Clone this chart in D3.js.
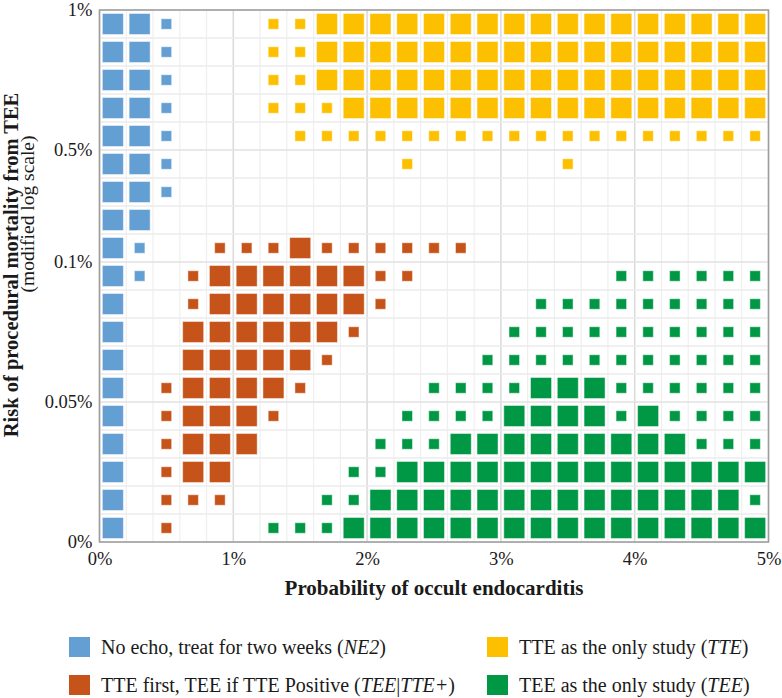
<!DOCTYPE html>
<html><head><meta charset="utf-8">
<script src="https://cdn.jsdelivr.net/npm/d3@7"></script>
</head><body style="margin:0">
<svg id="chart" width="782" height="698"></svg>
<script>
// Column categories: probability of occult endocarditis (%), cell centres
const colProb = [0.1,0.3,0.5,0.7,0.9,1.1,1.3,1.5,1.7,1.9,2.1,2.3,2.5,2.7,2.9,3.1,3.3,3.5,3.7,3.9,4.1,4.3,4.5,4.7,4.9];
// Rows from top (1%) to bottom (0%) ; B/O/Y/G = preferred strategy (large), lowercase = marginal (small), . = none
const gridRows = [
  "BBb...yyYYYYYYYYYYYYYYYYY",
  "BBb...yyYYYYYYYYYYYYYYYYY",
  "BBb...yyYYYYYYYYYYYYYYYYY",
  "BBb...yyyYYYYYYYYYYYYYYYY",
  "BBb....yyyyyyyyyyyyyyyyyy",
  "BBb........y.....y.......",
  "BBb......................",
  "BB.......................",
  "Bb..oooOoooooo...........",
  "Bb.oOOOOOOoo.......gggggg",
  "B..oOOOOOOo.....ggggggggg",
  "B..OOOOOOo.....gggggggggg",
  "B..OOOOOo.....ggggggggggg",
  "B.oOOOOo....ggggGGGgggggg",
  "B.oOOOo....ggggGGGGgGgggg",
  "B.oOOO....gggGGGGGGGGGggg",
  "B.oOO....ggGGGGGGGGGGGGGG",
  "B.ooo...ggGGGGGGGGGGGGGGg",
  "B.o...gggGGGGGGGGGGGGGGGG"
];
const strategyCodes = ["B","O","Y","G"];
const strategyNames = ["NE2","TEE|TTE+","TTE","TEE"];
const strategyColors = ["#649fd3","#c6531a","#fdc001","#009844"];

const xTickValues = [0,1,2,3,4,5];
const xTickLabels = ["0%","1%","2%","3%","4%","5%"];
const yTickRows = [0,5,9,14,19];
const yTickLabels = ["1%","0.5%","0.1%","0.05%","0%"];

const legendItems = [
  {code:"B", parts:[["No echo, treat for two weeks (",false],["NE2",true],[")",false]]},
  {code:"O", parts:[["TTE first, TEE if TTE Positive (",false],["TEE",true],["|",false],["TTE+",true],[")",false]]},
  {code:"Y", parts:[["TTE as the only study (",false],["TTE",true],[")",false]]},
  {code:"G", parts:[["TEE as the only study (",false],["TEE",true],[")",false]]}
];

const fontName = "Liberation Serif";
const FF = `"${fontName}"`;
const INK = "#1a1a1a";
const svg = d3.select("#chart").style("font-family", FF);
const L = 99.5, R = 768.5, T = 10, B = 542;
const x = d3.scaleLinear().domain([0,5]).range([L,R]);
const y = d3.scaleLinear().domain([0,gridRows.length]).range([T,B]);
const color = d3.scaleOrdinal().domain(strategyCodes).range(strategyColors);
const colStep = 0.2;

// grid
const g = svg.append("g");
g.selectAll("line.v").data(d3.range(0, colProb.length + 1)).join("line")
  .attr("x1", d => x(d*colStep)).attr("x2", d => x(d*colStep))
  .attr("y1", T).attr("y2", B)
  .attr("stroke", d => d % 5 === 0 ? "#dcdcdc" : "#efefef")
  .attr("stroke-width", d => d % 5 === 0 ? 1.6 : 1.2);
g.selectAll("line.h").data(d3.range(0, gridRows.length + 1)).join("line")
  .attr("x1", L).attr("x2", R)
  .attr("y1", d => y(d)).attr("y2", d => y(d))
  .attr("stroke", d => yTickRows.includes(d) ? "#e2e2e2" : "#ebebeb")
  .attr("stroke-width", 1.6);

// cells
const cells = [];
gridRows.forEach((row, r) => {
  row.split("").forEach((ch, c) => {
    if (ch === ".") return;
    cells.push({r, c, code: ch.toUpperCase(), big: ch === ch.toUpperCase()});
  });
});
const bigS = 21, smallS = 10.5;
svg.append("g").selectAll("rect").data(cells).join("rect")
  .attr("x", d => x(colProb[d.c]) - (d.big ? bigS : smallS)/2)
  .attr("y", d => y(d.r + 0.5) - (d.big ? bigS : smallS)/2)
  .attr("width", d => d.big ? bigS : smallS)
  .attr("height", d => d.big ? bigS : smallS)
  .attr("fill", d => color(d.code))
  .attr("stroke", "#ffffff").attr("stroke-opacity", 0.45).attr("stroke-width", 1);

// frame
svg.append("rect").attr("x", L).attr("y", T).attr("width", R-L).attr("height", B-T)
  .attr("fill", "none").attr("stroke", "#9c9c9c").attr("stroke-width", 1.5);

// axes
const xAxis = svg.append("g").attr("transform", `translate(0,${B})`)
  .call(d3.axisBottom(x).tickValues(xTickValues).tickFormat((d,i) => xTickLabels[i]).tickSize(0).tickPadding(10));
xAxis.select(".domain").remove();
xAxis.attr("font-family", fontName).attr("font-size", 18.5);
xAxis.selectAll("text").style("font-family", FF).style("font-size", "18.5px").attr("fill", INK);

const yAxis = svg.append("g").attr("transform", `translate(${L},0)`)
  .call(d3.axisLeft(y).tickValues(yTickRows).tickFormat((d,i) => yTickLabels[i]).tickSize(0).tickPadding(7));
yAxis.select(".domain").remove();
yAxis.attr("font-family", fontName).attr("font-size", 18.5);
yAxis.selectAll("text").style("font-family", FF).style("font-size", "18.5px").attr("fill", INK);

// titles
svg.append("text").attr("x", (L+R)/2).attr("y", 595).attr("text-anchor", "middle")
  .style("font-family", FF).style("font-weight", "bold").style("font-size", "21px").attr("fill", INK)
  .text("Probability of occult endocarditis");
svg.append("text").attr("transform", `translate(18,265) rotate(-90)`).attr("text-anchor", "middle")
  .style("font-family", FF).style("font-weight", "bold").style("font-size", "20.5px").attr("fill", INK)
  .text("Risk of procedural mortality from TEE");
svg.append("text").attr("transform", `translate(34,214) rotate(-90)`).attr("text-anchor", "middle")
  .style("font-family", FF).style("font-size", "19.5px").attr("fill", INK)
  .text("(modified log scale)");

// legend
const legendPos = [[69,637],[69,675],[487,637],[487,675]];
const lg = svg.append("g").selectAll("g").data(legendItems).join("g")
  .attr("transform", (d,i) => `translate(${legendPos[i][0]},${legendPos[i][1]})`);
lg.append("rect").attr("width", 21).attr("height", 20).attr("fill", d => color(d.code));
const lt = lg.append("text").attr("x", 32).attr("y", 10).attr("dy", "0.35em")
  .style("font-family", FF).style("font-size", "20px").attr("fill", INK);
lt.selectAll("tspan").data(d => d.parts).join("tspan")
  .style("font-style", d => d[1] ? "italic" : "normal").text(d => d[0]);
</script>
</body></html>
